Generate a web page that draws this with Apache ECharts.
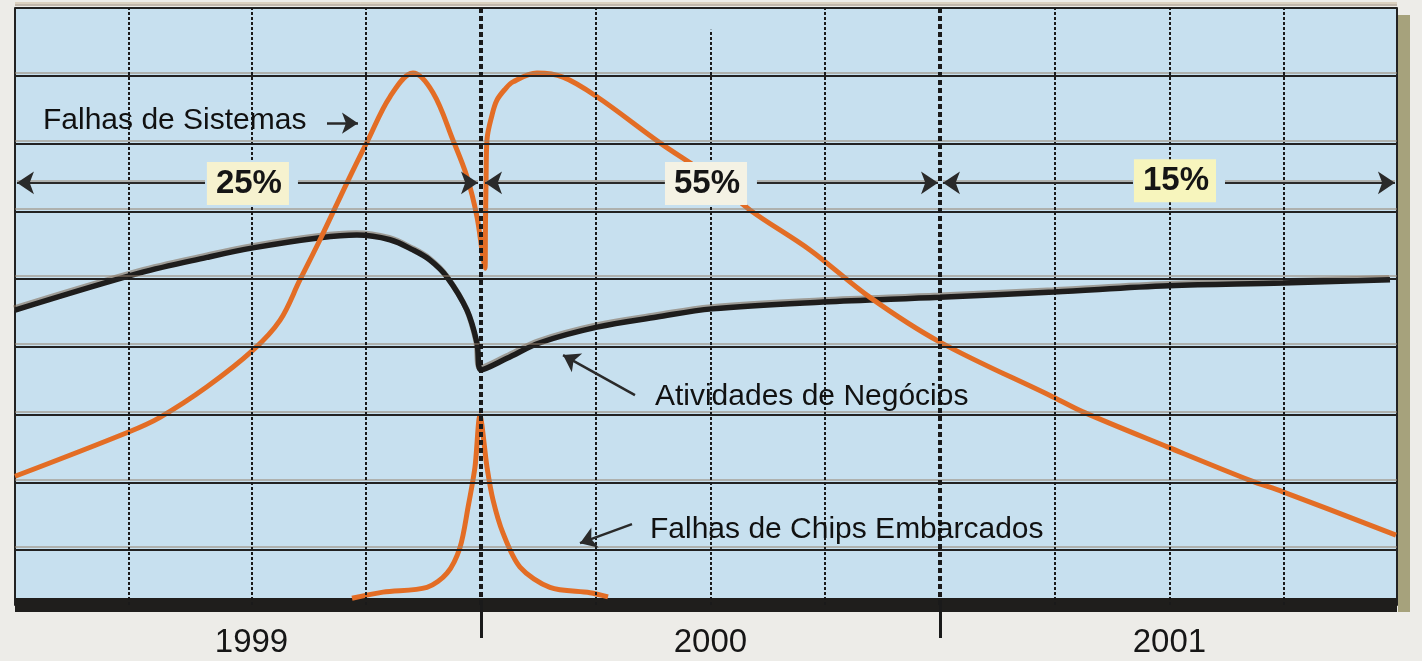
<!DOCTYPE html>
<html>
<head>
<meta charset="utf-8">
<script src="https://cdn.jsdelivr.net/npm/echarts@6.0.0/dist/echarts.min.js"></script>
<style>
html,body{margin:0;padding:0;background:#edece8;}
#chart{width:1422px;height:661px;}
</style>
</head>
<body>
<div id="chart"></div>
<script>
// ---- axis ranges (x in quarters, y in grid units) ----
const xMin = -0.061, xMax = 11.983;
const yMin = -0.81, yMax = 8;

// ---- tick labels ----
const yearLabels = ['1999', '2000', '2001'];
const yearLabelPos = [2, 6, 10];
const yearTicks = [4, 8];

// ---- grid lines ----
const hLines = [0, 1, 2, 3, 4, 5, 6, 7, 8];
const vThin = [0.93, 2, 3, 5, 7, 9, 10, 11];
const vPartial = [6, 7.68];
const vYear = [4, 8];

// ---- series ----
const negocios = [[-0.061,3.54],[1.028,4.09],[1.612,4.32],[2.013,4.46],[2.597,4.61],[2.919,4.65],[3.207,4.58],[3.407,4.43],[3.556,4.28],[3.704,4.03],[3.878,3.54],[3.965,3.06],[4.0,2.66],[4.227,2.83],[4.514,3.06],[5.011,3.29],[5.534,3.44],[6.013,3.56],[6.98,3.66],[8.0,3.73],[8.993,3.81],[9.996,3.90],[10.989,3.94],[11.922,3.99]];

const sistemas = [[-0.061,1.09],[0.924,1.74],[1.203,1.96],[1.612,2.41],[2.013,2.95],[2.248,3.39],[2.423,3.99],[2.597,4.58],[2.832,5.42],[3.015,6.05],[3.207,6.69],[3.407,7.04],[3.582,6.75],[3.756,6.05],[3.878,5.51],[3.965,4.92],[4.017,4.32],[4.035,4.16],[4.039,4.80],[4.044,5.42],[4.052,6.05],[4.096,6.42],[4.139,6.64],[4.209,6.80],[4.279,6.91],[4.488,7.04],[4.715,6.98],[5.011,6.69],[5.560,6.01],[5.996,5.51],[6.344,5.02],[6.867,4.43],[7.390,3.73],[8.000,3.07],[8.985,2.26],[9.246,2.04],[9.987,1.52],[10.702,1.03],[10.989,0.86],[11.974,0.22]];

const chips = [[2.876,-0.71],[3.146,-0.62],[3.529,-0.55],[3.704,-0.34],[3.817,0.04],[3.887,0.63],[3.948,1.23],[3.991,1.98],[4.052,1.23],[4.105,0.74],[4.192,0.25],[4.34,-0.25],[4.601,-0.55],[4.95,-0.63],[5.107,-0.69]];

// ---- annotations ----
const noteTexts = ['Falhas de Sistemas', 'Atividades de Negócios', 'Falhas de Chips Embarcados'];
const notePos = [[0.183,6.33],[5.516,2.258],[5.473,0.295]];
const noteArrows = [[[2.658,6.30],[2.928,6.30]], [[5.342,2.288],[4.715,2.878]], [[5.316,0.384],[4.863,0.103]]];

const pctTexts = ['25%', '55%', '15%'];
const pctPos = [[1.969,5.41],[5.961,5.41],[10.048,5.45]];
const pctBg = ['#f6f2cf', '#f4f2e4', '#f7f5bd'];
const spanArrows = [[[1.595,5.42],[-0.044,5.42]], [[2.405,5.42],[3.974,5.42]], [[5.603,5.42],[4.035,5.42]], [[6.405,5.42],[7.983,5.42]], [[9.682,5.42],[8.026,5.42]], [[10.484,5.42],[11.965,5.42]]];

const FONT = '"Liberation Sans", Arial, Helvetica, sans-serif';
const textShadow = {textShadowColor:'rgba(150,115,80,0.5)', textShadowOffsetX:-1, textShadowOffsetY:-1, textShadowBlur:0};

const gridLineData = [];
hLines.forEach(v => gridLineData.push({yAxis: v, lineStyle:{color:'#222', width:2, type:'solid', shadowColor:'rgba(150,130,110,0.5)', shadowOffsetY:-3, shadowBlur:0}}));
vThin.forEach(v => gridLineData.push({xAxis: v, lineStyle:{color:'#1a1a1a', width:2, type:[3,2]}}));
vYear.forEach(v => gridLineData.push({xAxis: v, lineStyle:{color:'#1a1a1a', width:4, type:[5,3]}}));
gridLineData.push([{coord:[vPartial[0], yMin], lineStyle:{color:'#1a1a1a', width:2, type:[3,2]}}, {coord:[vPartial[0], vPartial[1]]}]);

const chart = echarts.init(document.getElementById('chart'), null, {renderer:'canvas'});
chart.setOption({
  backgroundColor: '#edece8',
  animation: false,
  grid: {left:15, right:25, top:8, bottom:56, show:true, backgroundColor:'#c7e0ef', borderWidth:0},
  xAxis: {
    type:'value', min:xMin, max:xMax,
    axisLine:{show:true, onZero:false, lineStyle:{color:'#1f1e1c', width:14, cap:'butt'}},
    axisTick:{show:true, customValues: yearTicks, length:33, lineStyle:{color:'#1a1a1a', width:3}},
    axisLabel:{show:true, customValues: yearLabelPos, margin:21, fontSize:33, color:'#161616', fontFamily:FONT,
      formatter: v => yearLabels[yearLabelPos.indexOf(v)] || '', ...textShadow},
    splitLine:{show:false}
  },
  yAxis: [
    {type:'value', min:yMin, max:yMax, axisLine:{show:true, onZero:false, lineStyle:{color:'#222', width:2}}, axisTick:{show:false}, axisLabel:{show:false}, splitLine:{show:false}},
    {type:'value', position:'right', min:yMin, max:yMax, axisLine:{show:true, onZero:false, lineStyle:{color:'#222', width:2}}, axisTick:{show:false}, axisLabel:{show:false}, splitLine:{show:false}}
  ],
  graphic: [
    {type:'rect', shape:{x:1398, y:15, width:12, height:597}, style:{fill:'#a6a27c'}, z:-1},
    {type:'line', shape:{x1:15, y1:3, x2:1397, y2:3}, style:{stroke:'#c9b697', lineWidth:1}, z:-1}
  ],
  series: [
    {type:'line', name:'grid', data:[], z:1, silent:true,
      markLine:{silent:true, symbol:['none','none'], label:{show:false}, data: gridLineData}},
    {type:'line', name:'Atividades de Negócios', data:negocios, showSymbol:false, symbol:'none', smooth:0.35, z:3,
      lineStyle:{color:'#1e1d1c', width:5.5, shadowColor:'rgba(130,110,90,0.6)', shadowOffsetY:-2, shadowOffsetX:-1, shadowBlur:0}},
    {type:'line', name:'Falhas de Sistemas', data:sistemas, showSymbol:false, symbol:'none', smooth:0.35, z:4,
      lineStyle:{color:'#e36d25', width:5}},
    {type:'line', name:'Falhas de Chips Embarcados', data:chips, showSymbol:false, symbol:'none', smooth:0.3, z:4,
      lineStyle:{color:'#e36d25', width:5}},
    {type:'scatter', name:'notes', z:6, silent:true, symbolSize:1, itemStyle:{color:'transparent'},
      data: noteTexts.map((t,i) => ({name:t, value:notePos[i]})),
      label:{show:true, position:'inside', align:'left', verticalAlign:'middle', formatter:'{b}', fontSize:30, color:'#111', opacity:1, fontFamily:FONT, ...textShadow},
      markLine:{silent:true, symbol:['none','arrow'], symbolSize:16, label:{show:false},
        lineStyle:{color:'#2a2a2a', width:2.5, type:'solid'},
        data: noteArrows.map(a => [{coord:a[0]}, {coord:a[1]}])}
    },
    {type:'scatter', name:'pct', z:6, silent:true, symbolSize:1, itemStyle:{color:'transparent'},
      data: pctTexts.map((t,i) => ({name:t, value:pctPos[i], label:{backgroundColor:pctBg[i]}})),
      label:{show:true, position:'inside', align:'center', verticalAlign:'middle', formatter:'{b}', fontSize:33, fontWeight:'bold', color:'#151515', opacity:1, fontFamily:FONT, lineHeight:33, padding:[8,7,2,9]},
      markLine:{silent:true, symbol:['none','arrow'], symbolSize:17, label:{show:false},
        lineStyle:{color:'#2a2a2a', width:2, type:'solid', shadowColor:'rgba(150,130,110,0.5)', shadowOffsetY:-2, shadowBlur:0},
        data: spanArrows.map(a => [{coord:a[0]}, {coord:a[1]}])}
    }
  ]
});
</script>
</body>
</html>
